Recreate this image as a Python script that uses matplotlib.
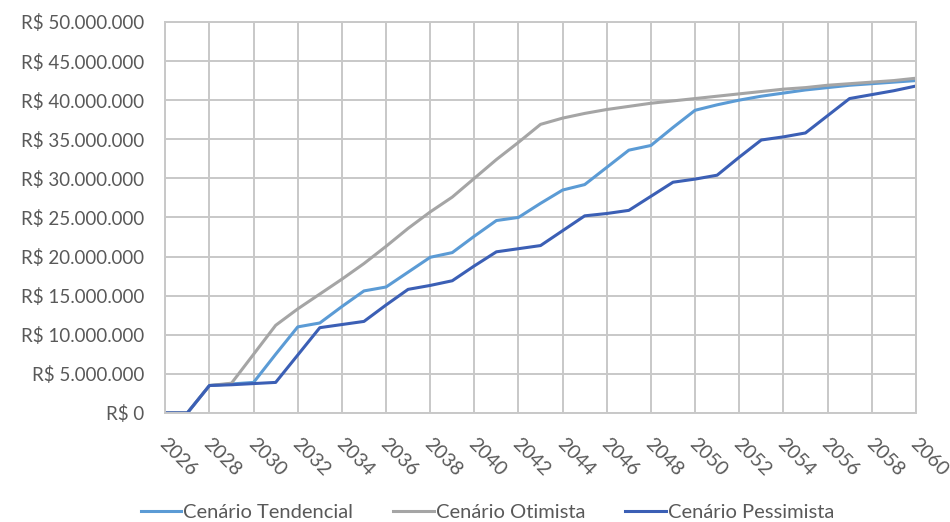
import numpy as np
import matplotlib.pyplot as plt
import matplotlib.transforms as mtransforms
from matplotlib.ticker import FuncFormatter, MultipleLocator

plt.rcParams['font.family'] = ['Lato', 'DejaVu Sans']

anos = list(range(2026, 2061))

# valores acumulados em milhões de R$
tendencial = [0, 0, 3.5, 3.7, 3.9, 7.5, 11.0, 11.5, 13.6, 15.6, 16.1, 18.0, 19.9, 20.5,
              22.6, 24.6, 25.0, 26.8, 28.5, 29.2, 31.4, 33.6, 34.2, 36.5, 38.7, 39.4,
              40.0, 40.5, 40.9, 41.3, 41.6, 41.9, 42.1, 42.3, 42.5]
otimista = [0, 0, 3.5, 3.8, 7.5, 11.2, 13.3, 15.2, 17.1, 19.1, 21.3, 23.6, 25.7, 27.6,
            30.0, 32.4, 34.6, 36.9, 37.7, 38.3, 38.8, 39.2, 39.6, 39.9, 40.2, 40.5,
            40.8, 41.1, 41.4, 41.6, 41.9, 42.1, 42.3, 42.5, 42.8]
pessimista = [0, 0, 3.5, 3.6, 3.75, 3.9, 7.4, 10.9, 11.3, 11.7, 13.8, 15.8, 16.3, 16.9,
              18.8, 20.6, 21.0, 21.4, 23.3, 25.2, 25.5, 25.9, 27.7, 29.5, 29.9, 30.4,
              32.7, 34.9, 35.3, 35.8, 38.0, 40.2, 40.7, 41.2, 41.8]

texto = '#595959'
grade = '#c8c8c8'

fig = plt.figure(figsize=(9.5, 5.22), dpi=100)
ax = fig.add_axes([0.174, 0.209, 0.79, 0.749])

x = np.array(anos)
ax.plot(x, np.array(tendencial) * 1e6, color='#5b9bd5', lw=2.2, label='Cenário Tendencial')
ax.plot(x, np.array(otimista) * 1e6, color='#a5a5a5', lw=2.2, label='Cenário Otimista')
ax.plot(x, np.array(pessimista) * 1e6, color='#3b5fb5', lw=2.2, label='Cenário Pessimista')

ax.set_xlim(2026, 2060)
ax.set_ylim(0, 50e6)
ax.xaxis.set_major_locator(MultipleLocator(2))
ax.yaxis.set_major_locator(MultipleLocator(5e6))


def reais(v, pos):
    if v == 0:
        return 'R$ 0'
    return 'R$ ' + f'{int(v):,}'.replace(',', '.')


ax.yaxis.set_major_formatter(FuncFormatter(reais))
ax.grid(True, color=grade, lw=1.4)
ax.set_axisbelow(True)
for s in ax.spines.values():
    s.set_color(grade)
    s.set_linewidth(1.4)

ax.tick_params(axis='both', length=0, colors=texto)
ax.tick_params(axis='y', pad=15, labelsize=13.5)
ax.tick_params(axis='x', pad=16, labelsize=14)

# rótulos dos anos inclinados, deslocados um pouco para a direita
desloca = mtransforms.ScaledTranslation(0.13, 0, fig.dpi_scale_trans)
for lbl in ax.get_xticklabels():
    lbl.set_rotation(-45)
    lbl.set_ha('center')
    lbl.set_va('top')
    lbl.set_transform(lbl.get_transform() + desloca)

fig.legend(loc='center', bbox_to_anchor=(0.513, 0.018), ncol=3, frameon=False,
           fontsize=14.5, labelcolor=texto, handlelength=2.0, handletextpad=0.1,
           columnspacing=2.0)

fig.savefig('out.png', dpi=100)
